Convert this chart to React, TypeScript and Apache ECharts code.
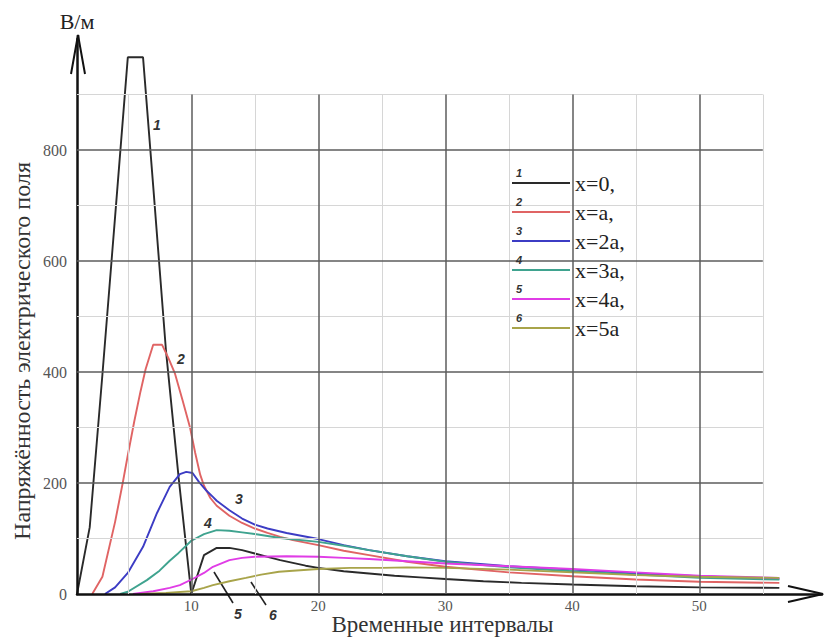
import React, { useEffect, useRef } from "react";
import * as echarts from "echarts";

// ---- data ----
const seriesNames = ["x=0,", "x=a,", "x=2a,", "x=3a,", "x=4a,", "x=5a"];
const seriesNumbers = ["1", "2", "3", "4", "5", "6"];
const seriesColors = ["#2a2a2a", "#e06464", "#3c3cc4", "#3fa38f", "#e03ce6", "#a8a44a"];

const curveX0: [number, number][] = [
  [1, 0], [2, 120], [3, 395], [4, 680], [5, 967], [6.2, 967], [7, 735], [8, 440], [9, 210], [10, 0],
  [11, 70], [12, 83], [13, 83], [14, 79], [15, 73], [16, 67], [17, 61], [18, 56], [19, 51], [20, 47],
  [22, 41], [24, 37], [26, 33], [28, 30], [30, 27], [33, 23], [36, 20], [40, 17], [45, 14], [50, 12], [56.3, 11],
];
const curveXa: [number, number][] = [
  [2.2, 0], [3, 31], [4, 130], [4.6, 200], [5, 250], [5.5, 310], [6, 365], [6.4, 405], [7, 449], [7.7, 449],
  [8.2, 425], [8.7, 398], [9.3, 350], [9.9, 300], [10.3, 255], [10.7, 215], [11, 195], [11.5, 173], [12, 159],
  [13, 141], [14, 128], [15, 118], [16, 110], [17, 103], [18, 97], [20, 88], [22, 78], [24, 70], [27, 58],
  [30, 49], [35, 39], [40, 32], [45, 26], [50, 22], [56.3, 20],
];
const curveX2a: [number, number][] = [
  [3.2, 0], [4, 12], [5, 38], [6.2, 85], [7.3, 146], [8.3, 193], [9.1, 216], [9.6, 220], [10.1, 218],
  [10.6, 202], [11.2, 186], [11.7, 175], [12, 168], [13, 151], [14, 136], [15, 125], [16, 118], [17.5, 110],
  [20, 99], [22, 88], [24, 79], [27, 68], [30, 59], [35, 50], [40, 44], [45, 37], [50, 32], [56.3, 27],
];
const curveX3a: [number, number][] = [
  [4.4, 0], [5, 4], [6.5, 25], [7.5, 42], [8.3, 60], [9, 74], [10, 96], [11, 108], [12, 115], [13, 114],
  [14, 111], [15, 108], [17, 101], [20, 94], [22, 87], [24, 79], [27, 68], [30, 58], [35, 48], [40, 41],
  [45, 35], [50, 29], [56.3, 26],
];
const curveX4a: [number, number][] = [
  [5.4, 0], [7, 5], [8.3, 11], [9.1, 16], [10.1, 27], [11, 38], [11.7, 49], [13, 61], [14, 65], [15, 67],
  [17.5, 68], [20, 67], [22, 65], [24, 63], [27, 59], [30, 55], [35, 50], [40, 45], [45, 39], [50, 33], [56.3, 29],
];
const curveX5a: [number, number][] = [
  [6, 0], [8, 2], [10, 5], [11, 11], [11.7, 16], [13, 23], [14.3, 29], [15.5, 35], [16.9, 40], [18, 42],
  [20, 45], [22.5, 47], [25, 47], [27, 48], [30, 47], [35, 44], [40, 39], [45, 34], [50, 31], [56.3, 29],
];
const curves = [curveX0, curveXa, curveX2a, curveX3a, curveX4a, curveX5a];

const xTickLabels = [10, 20, 30, 40, 50];
const yTickLabels = [0, 200, 400, 600, 800];
const xMajorGrid = [10, 20, 30, 40, 50];
const xMinorGrid = [5, 15, 25, 35, 45, 55];
const yMajorGrid = [200, 400, 600, 800];
const yMinorGrid = [100, 300, 500, 700, 900];
const xMin = 1;
const xMax = 59.66;
const xGridEnd = 55;
const yMin = 0;
const yMax = 1000;
const yGridEnd = 900;

const xTitle = "Временные интервалы";
const yTitle = "Напряжённость электрического поля";
const yUnit = "В/м";

export default function App() {
  const ref = useRef<HTMLDivElement>(null);

  useEffect(() => {
    if (!ref.current) return;
    const chart = echarts.init(ref.current, undefined, { renderer: "svg" });

    const major = { color: "#5c5c5c", width: 1.5, type: "solid" };
    const minor = { color: "#d6d6d6", width: 1, type: "solid" };
    const gridLines: any[] = [];
    xMinorGrid.forEach((x) => gridLines.push([{ coord: [x, yMin], lineStyle: minor }, { coord: [x, yGridEnd] }]));
    yMinorGrid.forEach((y) => gridLines.push([{ coord: [xMin, y], lineStyle: minor }, { coord: [xGridEnd, y] }]));
    xMajorGrid.forEach((x) => gridLines.push([{ coord: [x, yMin], lineStyle: major }, { coord: [x, yGridEnd] }]));
    yMajorGrid.forEach((y) => gridLines.push([{ coord: [xMin, y], lineStyle: major }, { coord: [xGridEnd, y] }]));

    const serif = "Liberation Serif";
    const sans = "Liberation Sans";
    const ann = (text: string, x: number, y: number, size = 14) => ({
      type: "text", x, y, z: 10,
      style: {
        text, fontFamily: sans, fontSize: size, fontStyle: "italic", fontWeight: "bold",
        fill: "#333", align: "center", verticalAlign: "middle",
      },
    });

    const graphic: any[] = [
      {
        type: "text", x: 22, y: 351, rotation: Math.PI / 2,
        style: { text: yTitle, fontFamily: serif, fontSize: 24, fill: "#333", align: "center", verticalAlign: "middle" },
      },
      { type: "line", shape: { x1: 78, y1: 40, x2: 78, y2: 35 }, style: { stroke: "#111", lineWidth: 2.5 } },
      { type: "polyline", shape: { points: [[71, 74], [78, 35], [85, 74]] }, style: { stroke: "#111", lineWidth: 2, fill: null } },
      { type: "polyline", shape: { points: [[788, 586], [823, 594], [788, 602]] }, style: { stroke: "#111", lineWidth: 2, fill: null } },
      ann("1", 157, 125),
      ann("2", 181, 359),
      ann("3", 239, 499),
      ann("4", 208, 523),
      ann("5", 238, 614),
      ann("6", 273, 615),
      { type: "line", shape: { x1: 214, y1: 572, x2: 233, y2: 603 }, style: { stroke: "#222", lineWidth: 1.6 } },
      { type: "line", shape: { x1: 251, y1: 582, x2: 266, y2: 605 }, style: { stroke: "#222", lineWidth: 1.6 } },
    ];
    seriesNumbers.forEach((n, i) => graphic.push(ann(n, 519, 173 + i * 29, 11)));

    const series: any[] = [
      {
        type: "line", name: "__grid", data: [[xMin, yMin]], symbol: "none", z: 1,
        lineStyle: { opacity: 0 }, silent: true,
        markLine: { silent: true, symbol: ["none", "none"], label: { show: false }, animation: false, data: gridLines },
      },
    ];
    curves.forEach((c, i) => {
      series.push({
        type: "line", name: seriesNames[i], data: c, symbol: "none", showSymbol: false,
        color: seriesColors[i], lineStyle: { color: seriesColors[i], width: 1.9 }, z: 2,
      });
    });

    chart.setOption({
      animation: false,
      backgroundColor: "#fff",
      grid: { left: 77, right: 3, top: 39, bottom: 43, containLabel: false, outerBoundsMode: "none" },
      xAxis: {
        type: "value", min: xMin, max: xMax, interval: 1, z: 3,
        axisLine: { show: true, onZero: false, lineStyle: { color: "#111", width: 2.5 } },
        axisTick: { show: false },
        splitLine: { show: false },
        axisLabel: {
          margin: 4, color: "#555", fontFamily: serif, fontSize: 15,
          formatter: (v: number) => (xTickLabels.includes(Math.round(v * 100) / 100) ? String(v) : ""),
        },
        name: xTitle, nameLocation: "middle", nameGap: 19, nameMoveOverlap: false,
        nameTextStyle: { fontFamily: serif, fontSize: 23, color: "#333", padding: [0, 14, 0, 0] },
      },
      yAxis: {
        type: "value", min: yMin, max: yMax, interval: 100, z: 3,
        axisLine: { show: true, onZero: false, lineStyle: { color: "#111", width: 2.5 } },
        axisTick: { show: false },
        splitLine: { show: false },
        axisLabel: {
          margin: 10, color: "#555", fontFamily: serif, fontSize: 16,
          formatter: (v: number) => (yTickLabels.includes(v) ? String(v) : ""),
        },
        name: yUnit, nameLocation: "end", nameGap: 7, nameMoveOverlap: false,
        nameTextStyle: { fontFamily: serif, fontSize: 22, color: "#222", align: "center" },
      },
      legend: {
        data: seriesNames, orient: "vertical", left: 503, top: 160,
        backgroundColor: "#fff", padding: [12, 14, 12, 9],
        icon: "rect", itemWidth: 58, itemHeight: 2, itemGap: 7, selectedMode: false,
        textStyle: { fontFamily: serif, fontSize: 22, color: "#222", padding: [6, 0, 0, 0] },
      },
      graphic,
      series,
    });

    return () => chart.dispose();
  }, []);

  return <div ref={ref} style={{ position: "fixed", left: 0, top: 0, width: 825, height: 637 }} />;
}
